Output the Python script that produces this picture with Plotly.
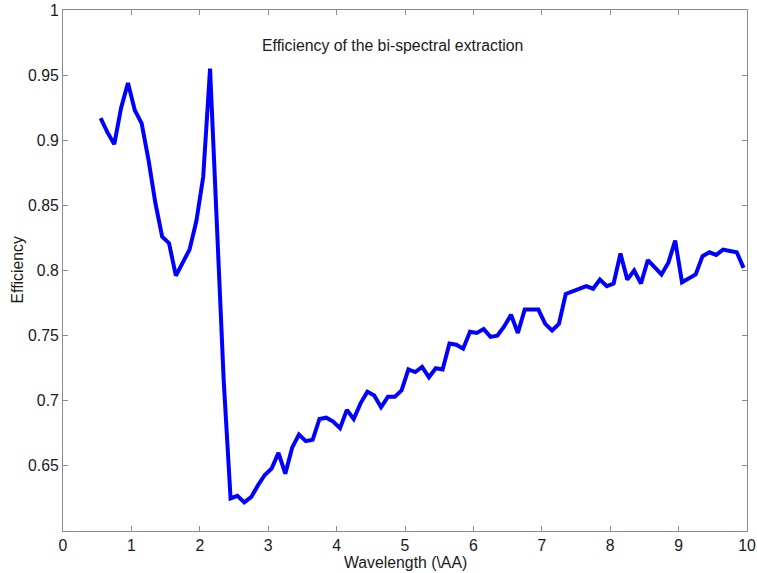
import plotly.graph_objects as go

# Wavelength samples and extraction efficiency
wavelength = [0.55 + 0.1 * i for i in range(95)]
efficiency = [
    0.917, 0.906, 0.897, 0.925, 0.944, 0.923, 0.913, 0.885, 0.852, 0.826,
    0.821, 0.796, 0.806, 0.816, 0.838, 0.872, 0.955, 0.835, 0.715, 0.625,
    0.627, 0.622, 0.626, 0.635, 0.643, 0.648, 0.660, 0.644, 0.664, 0.674,
    0.669, 0.670, 0.686, 0.687, 0.684, 0.679, 0.693, 0.686, 0.698, 0.707,
    0.704, 0.695, 0.703, 0.703, 0.708, 0.724, 0.722, 0.726, 0.718, 0.725,
    0.724, 0.744, 0.743, 0.740, 0.753, 0.752, 0.755, 0.749, 0.750, 0.757,
    0.766, 0.752, 0.770, 0.770, 0.770, 0.759, 0.754, 0.759, 0.782, 0.784,
    0.786, 0.788, 0.786, 0.793, 0.788, 0.790, 0.813, 0.793, 0.800, 0.790,
    0.808, 0.803, 0.797, 0.806, 0.823, 0.791, 0.794, 0.797, 0.811, 0.814,
    0.812, 0.816, 0.815, 0.814, 0.802,
]

x_ticks = list(range(0, 11))
y_ticks = [0.65, 0.7, 0.75, 0.8, 0.85, 0.9, 0.95, 1]
y_tick_text = ["0.65", "0.7", "0.75", "0.8", "0.85", "0.9", "0.95", "1"]

font_family = "Liberation Sans, Arial, sans-serif"
text_color = "#1a1a1a"
font_size = 15.8
axis_color = "#8c8c8c"

W, H = 757, 573
ml, mr, mt, mb = 63, 10, 10, 42
pw, ph = W - ml - mr, H - mt - mb

fig = go.Figure()
fig.add_trace(go.Scatter(
    x=wavelength, y=efficiency, mode="lines",
    line=dict(color="#0000ff", width=4), showlegend=False,
))

axis_common = dict(
    showgrid=False, zeroline=False, showline=True, linecolor=axis_color,
    linewidth=1, mirror="ticks", ticks="inside", ticklen=5,
    tickcolor=axis_color, automargin=False,
    tickfont=dict(family=font_family, size=font_size, color=text_color),
)

fig.update_xaxes(range=[0, 10], tickvals=x_ticks, **axis_common)
fig.update_yaxes(range=[0.6, 1], tickvals=y_ticks, ticktext=y_tick_text, **axis_common)

label_font = dict(family=font_family, size=font_size, color=text_color)

# Axis titles, placed in paper units below / left of the plotting area
fig.add_annotation(
    text="Wavelength (\\AA)", x=0.5, y=(H - mb - 562) / ph,
    xref="paper", yref="paper", xanchor="center", yanchor="middle",
    showarrow=False, font=label_font,
)
fig.add_annotation(
    text="Efficiency", x=(17 - ml) / pw, y=0.5,
    xref="paper", yref="paper", xanchor="center", yanchor="middle",
    textangle=-90, showarrow=False, font=label_font,
)
# Caption inside the axes
fig.add_annotation(
    text="Efficiency of the bi-spectral extraction",
    x=4.82, y=0.973, xref="x", yref="y", showarrow=False, font=label_font,
)

fig.update_layout(
    width=W, height=H,
    margin=dict(l=ml, r=mr, t=mt, b=mb),
    plot_bgcolor="white", paper_bgcolor="white",
)

fig.write_html("out.html")
